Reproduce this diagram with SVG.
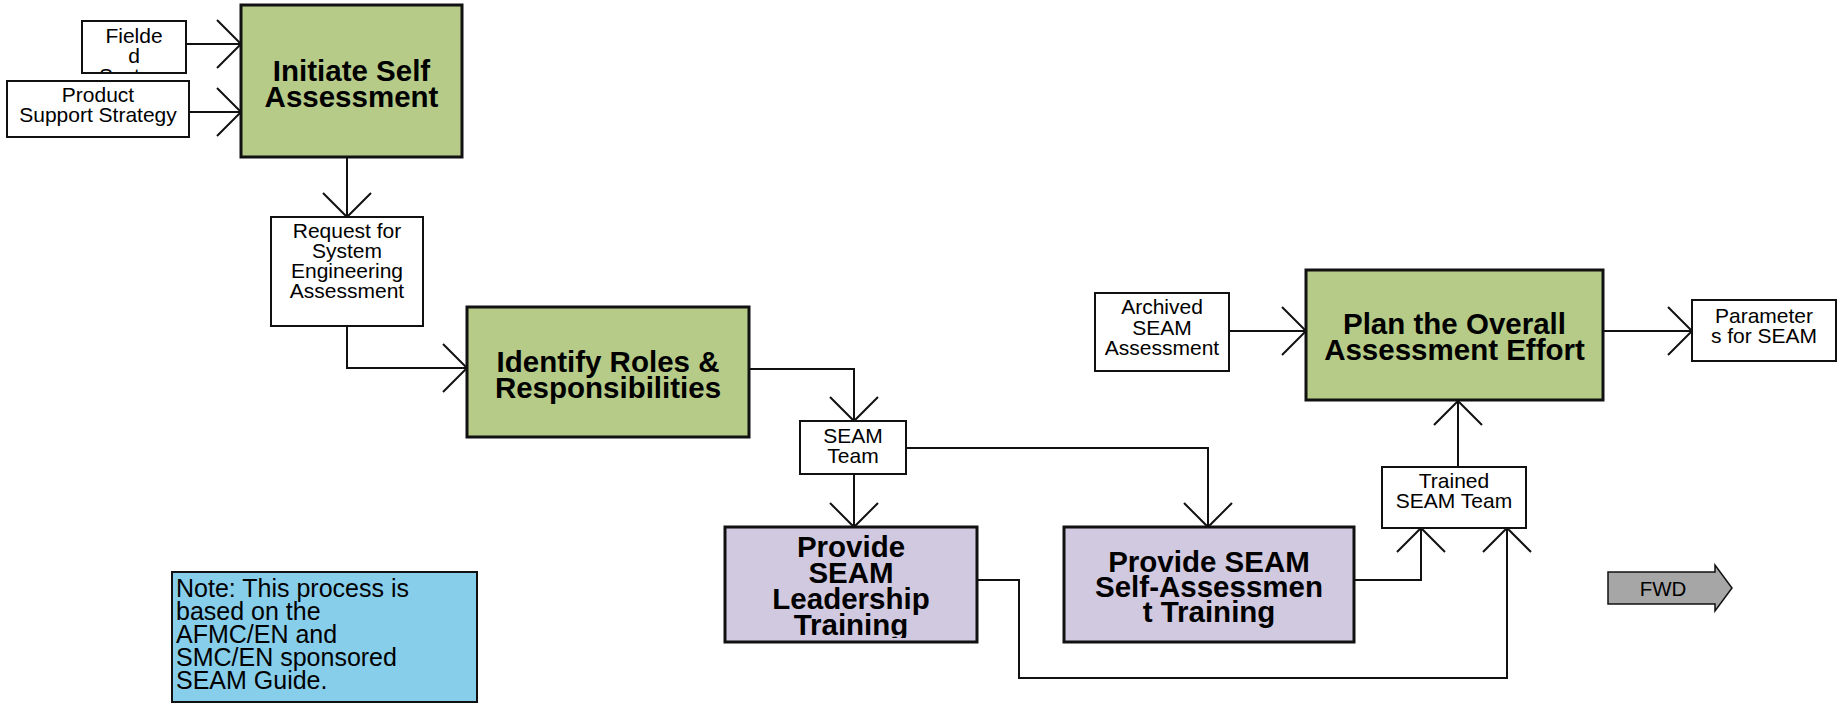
<svg xmlns="http://www.w3.org/2000/svg" width="1839" height="705" viewBox="0 0 1839 705">
<style>
.main{stroke:#111;stroke-width:3}
.green{fill:#b6cb88}
.lav{fill:#d1c9df}
.box{fill:#fff;stroke:#111;stroke-width:2}
.note{fill:#87ceeb;stroke:#111;stroke-width:2}
.t{font-family:"Liberation Sans",Arial,sans-serif;fill:#000}
.big{font-size:29.5px;font-weight:bold;text-anchor:middle}
.sm{font-size:21px;text-anchor:middle}
.nt{font-size:25px}
.conn{fill:none;stroke:#111;stroke-width:2}
</style>
<defs>
<marker id="ah" markerUnits="userSpaceOnUse" viewBox="-27 -27 29 54" refX="0" refY="0" markerWidth="29" markerHeight="54" orient="auto">
<path d="M-24,-24 L0,0 L-24,24" fill="none" stroke="#111" stroke-width="2"/>
</marker>
<clipPath id="clipF"><rect x="83" y="22" width="102" height="50"/></clipPath>
<clipPath id="clipL"><rect x="726" y="528" width="250" height="110"/></clipPath>
</defs>
<rect width="1839" height="705" fill="#fff"/>
<g id="connectors">
<path class="conn" d="M186,44 H241" marker-end="url(#ah)"/>
<path class="conn" d="M189,112 H241" marker-end="url(#ah)"/>
<path class="conn" d="M347,157 V217" marker-end="url(#ah)"/>
<path class="conn" d="M347,326 V368 H467" marker-end="url(#ah)"/>
<path class="conn" d="M749,369 H854 V421" marker-end="url(#ah)"/>
<path class="conn" d="M854,474 V527" marker-end="url(#ah)"/>
<path class="conn" d="M906,448 H1208 V527" marker-end="url(#ah)"/>
<path class="conn" d="M977,580 H1019 V678 H1507 V528" marker-end="url(#ah)"/>
<path class="conn" d="M1354,580 H1421 V528" marker-end="url(#ah)"/>
<path class="conn" d="M1458,467 V401" marker-end="url(#ah)"/>
<path class="conn" d="M1229,331 H1306" marker-end="url(#ah)"/>
<path class="conn" d="M1603,331 H1692" marker-end="url(#ah)"/>
</g>
<g id="fielded">
<rect class="box" x="82" y="21" width="104" height="52"/>
<g clip-path="url(#clipF)">
<text class="t sm" x="134" y="43">Fielde</text>
<text class="t sm" x="134" y="63">d</text>
<text class="t sm" x="134" y="83">System</text>
</g>
</g>
<g id="product">
<rect class="box" x="7" y="81" width="182" height="56"/>
<text class="t sm" x="98" y="102">Product</text>
<text class="t sm" x="98" y="122">Support Strategy</text>
</g>
<g id="initiate">
<rect class="main green" x="241" y="5" width="221" height="152"/>
<text class="t big" x="351.5" y="81">Initiate Self</text>
<text class="t big" x="351.5" y="107">Assessment</text>
</g>
<g id="request">
<rect class="box" x="271" y="217" width="152" height="109"/>
<text class="t sm" x="347" y="238">Request for</text>
<text class="t sm" x="347" y="258">System</text>
<text class="t sm" x="347" y="278">Engineering</text>
<text class="t sm" x="347" y="298">Assessment</text>
</g>
<g id="identify">
<rect class="main green" x="467" y="307" width="282" height="130"/>
<text class="t big" x="608" y="372">Identify Roles &amp;</text>
<text class="t big" x="608" y="398">Responsibilities</text>
</g>
<g id="seamteam">
<rect class="box" x="800" y="421" width="106" height="53"/>
<text class="t sm" x="853" y="443">SEAM</text>
<text class="t sm" x="853" y="463">Team</text>
</g>
<g id="leadership">
<rect class="main lav" x="725" y="527" width="252" height="115"/>
<g clip-path="url(#clipL)">
<text class="t big" x="851" y="557">Provide</text>
<text class="t big" x="851" y="583">SEAM</text>
<text class="t big" x="851" y="609">Leadership</text>
<text class="t big" x="851" y="635">Training</text>
</g>
</g>
<g id="selfassess">
<rect class="main lav" x="1064" y="527" width="290" height="115"/>
<text class="t big" x="1209" y="572">Provide SEAM</text>
<text class="t big" x="1209" y="597">Self-Assessmen</text>
<text class="t big" x="1209" y="622">t Training</text>
</g>
<g id="trained">
<rect class="box" x="1382" y="467" width="144" height="61"/>
<text class="t sm" x="1454" y="488">Trained</text>
<text class="t sm" x="1454" y="508">SEAM Team</text>
</g>
<g id="archived">
<rect class="box" x="1095" y="293" width="134" height="78"/>
<text class="t sm" x="1162" y="314">Archived</text>
<text class="t sm" x="1162" y="335">SEAM</text>
<text class="t sm" x="1162" y="355">Assessment</text>
</g>
<g id="plan">
<rect class="main green" x="1306" y="270" width="297" height="130"/>
<text class="t big" x="1454.5" y="334">Plan the Overall</text>
<text class="t big" x="1454.5" y="360">Assessment Effort</text>
</g>
<g id="parameters">
<rect class="box" x="1692" y="300" width="144" height="61"/>
<text class="t sm" x="1764" y="323">Parameter</text>
<text class="t sm" x="1764" y="343">s for SEAM</text>
</g>
<g id="note">
<rect class="note" x="172" y="572" width="305" height="130"/>
<text class="t nt" x="176" y="597">Note: This process is</text>
<text class="t nt" x="176" y="620">based on the</text>
<text class="t nt" x="176" y="643">AFMC/EN and</text>
<text class="t nt" x="176" y="666">SMC/EN sponsored</text>
<text class="t nt" x="176" y="689">SEAM Guide.</text>
</g>
<g id="fwd">
<path d="M1608,572 H1715 V565 L1732,588 L1715,611 V604 H1608 Z" fill="#a6a6a6" stroke="#111" stroke-width="1.5"/>
<text class="t" x="1663" y="596" font-size="20.5" text-anchor="middle" fill="#222">FWD</text>
</g>
</svg>
